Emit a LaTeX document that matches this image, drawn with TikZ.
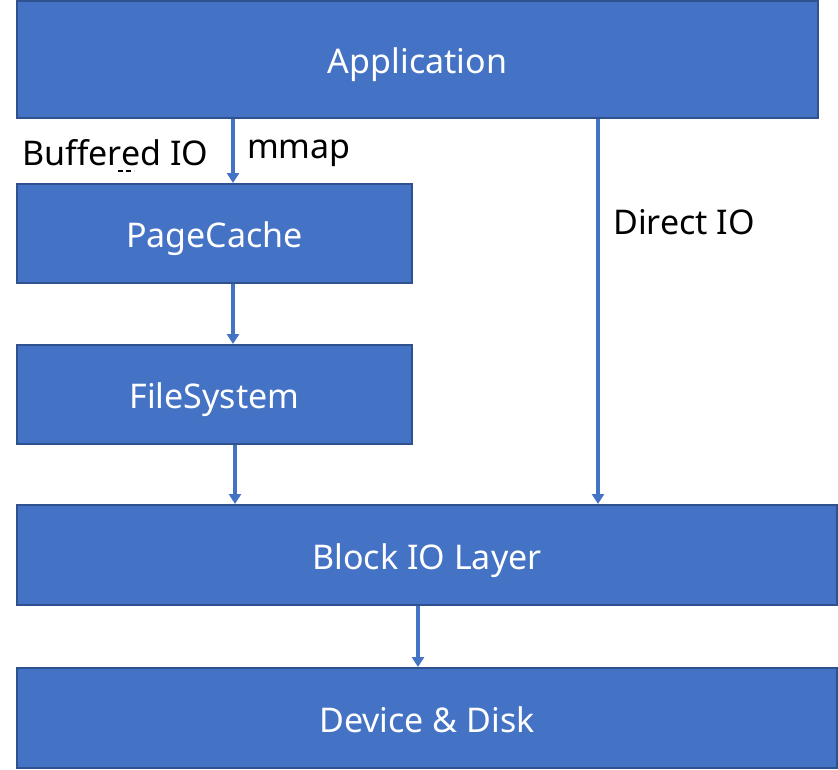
\documentclass[tikz,border=0pt]{standalone}
\usepackage{fontspec}
\setmainfont{Noto Sans}
\usetikzlibrary{arrows.meta}
\definecolor{boxblue}{HTML}{4472C4}
\definecolor{boxedge}{HTML}{2F528F}

\begin{document}
\begin{tikzpicture}[x=1pt, y=-1pt]
        \tikzset{layer/.style={draw=boxedge, fill=boxblue, line width=2pt, text=white,
                 minimum height=99pt, inner sep=0pt, text height=28pt, text depth=0pt,
                 font=\fontsize{34}{40}\selectfont},
                 arr/.style={draw=boxblue, line width=3.5pt, -{Triangle[width=12pt,length=10pt]}},
                 lbl/.style={anchor=west, inner sep=0pt, font=\fontsize{34}{40}\selectfont}}
        \useasboundingbox (0,0) rectangle (838,769);
        \node [layer, minimum width=801pt, minimum height=117pt] (app)   at (417.5, 59.5) {Application};
        \node [layer, minimum width=395pt]                       (cache) at (214.5, 233.5){PageCache};
        \node [layer, minimum width=395pt]                       (fs)    at (214.5, 394.5){FileSystem};
        \node [layer, minimum width=820pt, minimum height=100pt] (block) at (427, 555)    {Block IO Layer};
        \node [layer, minimum width=820pt, minimum height=100pt] (disk)  at (427, 718)    {Device \& Disk};
        \coordinate (c1) at (233, 0);
        \coordinate (c2) at (235, 0);
        \coordinate (c3) at (598, 0);
        \coordinate (c4) at (418, 0);
        \draw [arr] (app.south -| c1)   -- (cache.north -| c1);
        \draw [arr] (cache.south -| c1) -- (fs.north -| c1);
        \draw [arr] (fs.south -| c2)    -- (block.north -| c2);
        \draw [arr] (app.south -| c3)   -- (block.north -| c3);
        \draw [arr] (block.south -| c4) -- (disk.north -| c4);
        \node [lbl] (buf)    at (22, 153)  {Buffered IO};
        \node [lbl] (mmap)   at (247, 153) {mmap};
        \node [lbl] (direct) at (613, 222) {Direct IO};
        \draw [line width=1.5pt, dash pattern=on 5pt off 3pt] (118, 171) -- (134, 171);
    \end{tikzpicture}
\end{document}
